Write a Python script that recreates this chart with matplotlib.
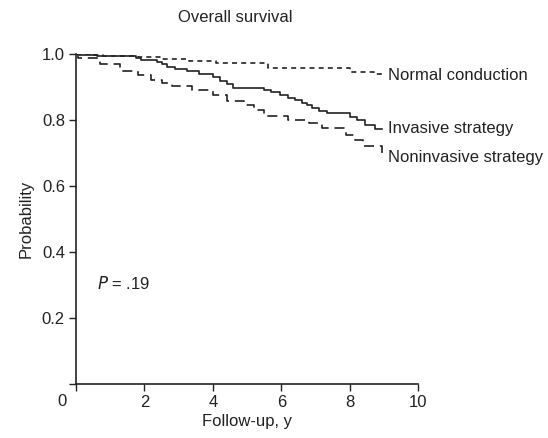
import matplotlib
matplotlib.use("Agg")
import matplotlib.pyplot as plt

plt.rcParams['font.family'] = ['Liberation Sans', 'DejaVu Sans']

# step curves (time in years, survival probability)
normal_t = [0, 0.5, 0.8, 1.8, 2.5, 3.3, 4.1, 5.6, 8.0, 8.7, 9.0]
normal_p = [1.0, 0.997, 0.994, 0.991, 0.985, 0.979, 0.973, 0.958, 0.945, 0.939, 0.936]

invasive_t = [0, 0.1, 0.6, 1.75, 1.9, 2.37, 2.5, 2.66, 2.9, 3.25, 3.6, 4.0, 4.2, 4.4, 4.6,
              5.5, 5.7, 5.96, 6.2, 6.4, 6.6, 6.75, 6.9, 7.1, 7.34, 8.0, 8.2, 8.45, 8.74, 8.95]
invasive_p = [1.0, 0.997, 0.994, 0.988, 0.982, 0.976, 0.970, 0.962, 0.955, 0.948, 0.940, 0.930,
              0.918, 0.908, 0.897, 0.890, 0.884, 0.876, 0.868, 0.860, 0.852, 0.845, 0.836, 0.828,
              0.820, 0.810, 0.800, 0.785, 0.773, 0.773]

noninv_t = [0, 0.05, 0.7, 1.3, 1.8, 2.2, 2.5, 2.8, 3.4, 4.0, 4.4, 4.9, 5.2, 5.5, 6.2, 6.8,
            7.2, 7.9, 8.15, 8.4, 8.95]
noninv_p = [1.0, 0.988, 0.970, 0.950, 0.935, 0.922, 0.912, 0.902, 0.89, 0.875, 0.858, 0.845,
            0.830, 0.812, 0.800, 0.790, 0.775, 0.755, 0.74, 0.72, 0.70]

labels = ["Normal conduction", "Invasive strategy", "Noninvasive strategy"]

fig = plt.figure(figsize=(5.48, 4.38), dpi=100)
ax = fig.add_axes([0.1387, 0.1233, 0.6243, 0.7534])

ax.step(normal_t, normal_p, where='post', color='#222', lw=1.2, linestyle=(0, (3, 2.5)))
ax.step(invasive_t, invasive_p, where='post', color='#222', lw=1.2)
ax.step(noninv_t, noninv_p, where='post', color='#222', lw=1.2, linestyle=(0, (6, 3.5)))

fs = 12
ax.text(9.12, normal_p[-1], labels[0], fontsize=fs, va='center', color='#222')
ax.text(9.12, invasive_p[-1], labels[1], fontsize=fs, va='center', color='#222')
ax.text(9.12, noninv_p[-1] - 0.015, labels[2], fontsize=fs, va='center', color='#222')

ax.set_xlim(0, 10)
ax.set_ylim(0, 1.0)
ax.set_xticks([0, 2, 4, 6, 8, 10])
ax.set_xticklabels(['', '2', '4', '6', '8', '10'])
ax.text(-0.4, -0.03, '0', fontsize=fs, ha='center', va='top', color='#222', clip_on=False)
ax.set_yticks([0, 0.2, 0.4, 0.6, 0.8, 1.0])
ax.set_yticklabels(['', '0.2', '0.4', '0.6', '0.8', '1.0'])
ax.tick_params(direction='out', length=5, width=1, labelsize=fs, colors='#222', pad=3)

for s in ['top', 'right']:
    ax.spines[s].set_visible(False)
for s in ['left', 'bottom']:
    ax.spines[s].set_linewidth(1.2)
    ax.spines[s].set_color('#222')

ax.set_xlabel('Follow-up, y', fontsize=fs, color='#222', labelpad=3)
ax.set_ylabel('Probability', fontsize=fs, color='#222', labelpad=6)
ax.text(0.6, 0.306, r'$\it{P}$ = .19', fontsize=fs, va='center', color='#222')
fig.text(0.43, 0.96, 'Overall survival', fontsize=12, ha='center', va='center', color='#222')

fig.savefig('out.png', dpi=100)
